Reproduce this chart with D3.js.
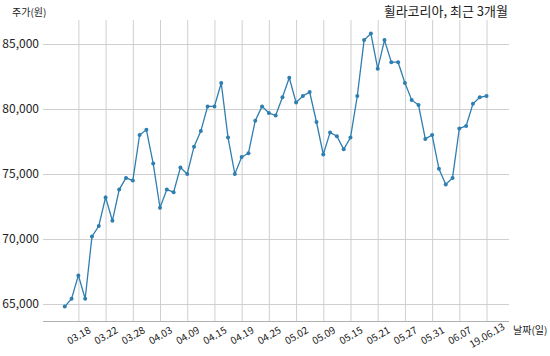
<!DOCTYPE html>
<html><head><meta charset="utf-8">
<script src="https://cdn.jsdelivr.net/npm/d3@7"></script>
<style>
body{margin:0;background:#fff;}
text{font-family:"Noto Sans CJK KR","Noto Sans",sans-serif;}
</style></head>
<body><svg id="c" width="550" height="356"></svg>
<script>
const dates = ["03.14","03.15","03.18","03.19","03.20","03.21","03.22","03.25","03.26","03.27","03.28","03.29",
"04.01","04.02","04.03","04.04","04.05","04.08","04.09","04.10","04.11","04.12","04.15","04.16","04.17","04.18","04.19",
"04.22","04.23","04.24","04.25","04.26","04.29","04.30","05.02","05.03","05.07","05.08","05.09","05.10","05.13","05.14",
"05.15","05.16","05.17","05.20","05.21","05.22","05.23","05.24","05.27","05.28","05.29","05.30","05.31","06.03","06.04",
"06.05","06.07","06.10","06.11","06.12","19.06.13"];
const prices = [64800,65400,67200,65400,70200,71000,73200,71400,73800,74700,74500,78000,78400,75800,72400,73800,73600,
75500,75000,77100,78300,80200,80200,82000,77800,75000,76300,76600,79100,80200,79700,79500,80900,82400,80500,81000,81300,
79000,76500,78200,77900,76900,77800,81000,85300,85800,83100,85300,83600,83600,82000,80700,80300,77700,78000,75400,74200,
74700,78500,78700,80400,80900,81000];
const xTickIdx = [2,6,10,14,18,22,26,30,34,38,42,46,50,54,58,62];
const yTicks = [65000,70000,75000,80000,85000];
const title = "휠라코리아, 최근 3개월";
const yLabel = "주가(원)";
const xLabel = "날짜(일)";

const svg = d3.select("#c");
const L=43, R=509, T=20, B=321;
const x = d3.scaleLinear().domain([-3.2, 65.3]).range([L, R]);
const y = d3.scaleLinear().domain([63750, 86850]).range([320.25, 19.95]);

// horizontal grid + y labels
const ga = svg.append("g").attr("transform",`translate(${L},0)`)
  .call(d3.axisLeft(y).tickValues(yTicks).tickFormat(d3.format(",")).tickSize(-(R-L)).tickPadding(4));
ga.select(".domain").remove();
ga.selectAll(".tick line").attr("stroke","#cfcfcf").attr("stroke-width",1);
ga.selectAll(".tick text").attr("font-size","12px").attr("fill","#222");

// vertical grid + x labels
const gx = svg.append("g").attr("transform",`translate(0,${B})`)
  .call(d3.axisBottom(x).tickValues(xTickIdx).tickFormat(i=>dates[i]).tickSize(-(B-T)).tickSizeOuter(0));
gx.select(".domain").attr("stroke","#b0b0b0").attr("stroke-width",1).attr("d",`M${L},0.5H${R}`);
gx.selectAll(".tick line").attr("stroke","#cfcfcf").attr("stroke-width",1);
gx.selectAll(".tick text").attr("font-size","10px").attr("fill","#222")
  .attr("text-anchor","middle").attr("y",0).attr("dy","0.35em")
  .attr("transform","translate(0,14.5) rotate(-30)");

// line
const color = "#2e7eb0";
svg.append("path").datum(prices)
  .attr("fill","none").attr("stroke",color).attr("stroke-width",1.3)
  .attr("d", d3.line().x((d,i)=>x(i)).y(d=>y(d)));
svg.append("g").selectAll("circle").data(prices).join("circle")
  .attr("cx",(d,i)=>x(i)).attr("cy",d=>y(d)).attr("r",2).attr("fill",color);

// texts
svg.append("text").attr("x",508).attr("y",16).attr("text-anchor","end")
  .attr("font-size","13px").attr("fill","#222").text(title);
svg.append("text").attr("x",12).attr("y",16).attr("font-size","10px").attr("fill","#222").text(yLabel);
svg.append("text").attr("x",513).attr("y",334).attr("font-size","10px").attr("fill","#222").text(xLabel);
</script></body></html>
